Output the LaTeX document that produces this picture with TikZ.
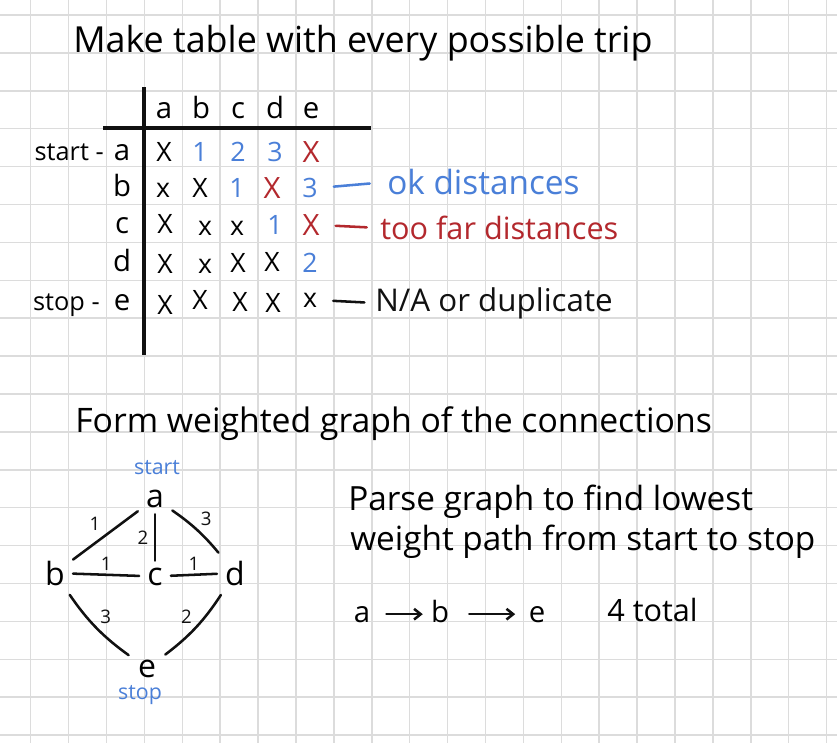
\documentclass[tikz,border=0pt]{standalone}
\usepackage{fontspec}
\setmainfont{Open Sans}
\usetikzlibrary{arrows.meta}
\definecolor{okblue}{HTML}{4A7FD8}
\definecolor{farred}{HTML}{B3282D}
\definecolor{gridgray}{HTML}{DCDCDC}
\definecolor{pen}{HTML}{111111}

\tikzset{
  gridline/.style={gridgray, line width=1.1pt},
  ink/.style={pen, line width=1.9pt, line cap=round},
  rule/.style={pen, line width=2.8pt},
  heading/.style={font=\fontsize{25}{30}\selectfont, inner sep=0pt, anchor=base west},
  letter/.style={font=\fontsize{22}{26}\selectfont, inner sep=2pt, anchor=base},
  cell/.style={font=\fontsize{20}{22}\selectfont, inner sep=0pt},
  okcell/.style={font=\fontsize{20}{22}\selectfont, text=okblue, inner sep=0pt},
  farcell/.style={font=\fontsize{22}{24}\selectfont, text=farred, inner sep=0pt},
  legend/.style={font=\fontsize{23}{26}\selectfont, inner sep=0pt, anchor=west},
  weight/.style={font=\fontsize{14}{16}\selectfont, inner sep=1pt},
  tag/.style={font=\fontsize{16}{18}\selectfont, text=okblue, inner sep=0pt},
  barb/.style={-{Straight Barb[length=5pt,width=8pt]}}
}

\begin{document}
\begin{tikzpicture}[x=0.75pt, y=-0.75pt]
  \useasboundingbox (0,0) rectangle (837,743);
  \fill[white] (0,0) rectangle (837,743);
  % grid paper
  \foreach \k in {0,...,21}
    \draw[gridline] ({30.7+37.9*\k},0) -- ++(0,743);
  \foreach \k in {0,...,19}
    \draw[gridline] (0,{15+37.9*\k}) -- ++(837,0);

  \node[heading, font=\fontsize{26.9}{32}\selectfont] (title1) at (73,52) {Make table with every possible trip};

  % table
  \draw[rule] (144,87) -- (144,355);
  \draw[rule] (103,128) -- (371,128);
  \foreach \c/\x in {a/164,b/201,c/238,d/275,e/311}
    \node[letter] (h\c) at (\x,118) {\c};
  \foreach \r/\y in {a/160,b/196,c/233,d/271,e/310}
    \node[letter] (r\r) at (122,\y) {\r};
  \node[legend, anchor=base east, font=\fontsize{19}{22}\selectfont] (startrow) at (104,160) {start -};
  \node[legend, anchor=base east, font=\fontsize{19}{22}\selectfont] (stoprow) at (100,310) {stop -};

  \node[cell] (aa) at (164,152) {X};
  \node[okcell] (ab) at (200,152) {1};
  \node[okcell] (ac) at (238,152) {2};
  \node[okcell] (ad) at (275,152) {3};
  \node[farcell] (ae) at (311,152) {X};

  \node[cell] (ba) at (163,190) {x};
  \node[cell] (bb) at (200,188) {X};
  \node[okcell] (bc) at (237,188) {1};
  \node[farcell] (bd) at (272,188) {X};
  \node[okcell] (be) at (310,188) {3};

  \node[cell] (ca) at (165,224) {X};
  \node[cell] (cb) at (205,228) {x};
  \node[cell] (cc) at (237,228) {x};
  \node[okcell] (cd) at (275,225) {1};
  \node[farcell] (ce) at (311,225) {X};

  \node[cell] (da) at (165,264) {X};
  \node[cell] (db) at (205,266) {x};
  \node[cell] (dc) at (238,263) {X};
  \node[cell] (dd) at (272,262) {X};
  \node[okcell] (de) at (310,263) {2};

  \node[cell] (ea) at (165,305) {X};
  \node[cell] (eb) at (200,300) {X};
  \node[cell] (ec) at (240,302) {X};
  \node[cell] (ed) at (273,303) {X};
  \node[cell] (ee) at (310,300) {x};

  % legend
  \node[legend, text=okblue, font=\fontsize{25}{28}\selectfont] (okdist) at (387,182) {ok distances};
  \node[legend, text=farred] (fardist) at (380,228) {too far distances};
  \node[legend, text=pen, font=\fontsize{23.5}{26}\selectfont] (nadup) at (375,303) {N/A or duplicate};
  \draw[ink, okblue, shorten <=12pt, shorten >=13pt] (be.east) -- (okdist.west);
  \draw[ink, farred, shorten <=12pt, shorten >=10pt] (ce.east) -- (fardist.west);
  \draw[ink, shorten <=12pt, shorten >=8pt] (ee.east) -- (nadup.west);

  \node[heading, font=\fontsize{25.3}{30}\selectfont] (title2) at (75,432) {Form weighted graph of the connections};

  % weighted graph
  \node[letter, font=\fontsize{24}{28}\selectfont] (a) at (155,507) {a};
  \node[letter, font=\fontsize{24}{28}\selectfont] (b) at (55,585) {b};
  \node[letter, font=\fontsize{24}{28}\selectfont] (c) at (155,585) {c};
  \node[letter, font=\fontsize{24}{28}\selectfont] (d) at (235,585) {d};
  \node[letter, font=\fontsize{24}{28}\selectfont] (e) at (147,677) {e};
  \node[tag] (start) at (157,468) {start};
  \node[tag] (stop) at (140,695) {stop};

  \draw[ink, shorten <=5pt, shorten >=5pt] (a) -- node[weight, above left=2pt] {1} (b);
  \draw[ink, shorten <=3pt, shorten >=3pt] (a) -- node[weight, left=3pt] {2} (c);
  \draw[ink, shorten <=5pt, shorten >=5pt] (a) to[bend left=8] node[weight, above right=1pt] {3} (d);
  \draw[ink, shorten <=4pt, shorten >=4pt] (b) -- node[weight, above=1pt] {1} (c);
  \draw[ink, shorten <=4pt, shorten >=4pt] (c) -- node[weight, above=1pt] {1} (d);
  \draw[ink, shorten <=6pt, shorten >=6pt] (b) to[bend right=10] node[weight, above right=1pt] {3} (e);
  \draw[ink, shorten <=6pt, shorten >=6pt] (d) to[bend left=10] node[weight, above left=1pt] {2} (e);

  % path search
  \node[heading] (parse1) at (348,510) {Parse graph to find lowest};
  \node[heading] (parse2) at (350,550) {weight path from start to stop};
  \node[letter] (pa) at (362,622) {a};
  \node[letter] (pb) at (440,622) {b};
  \node[letter] (pe) at (537,622) {e};
  \draw[ink, barb, shorten <=10pt, shorten >=4pt] (pa.east) -- (pb.west |- pa.east);
  \draw[ink, barb, shorten <=13pt, shorten >=8pt] (pb.east |- pa.east) -- (pe.west |- pa.east);
  \node[heading, font=\fontsize{23}{26}\selectfont] (total) at (607,621) {4 total};
\end{tikzpicture}
\end{document}
